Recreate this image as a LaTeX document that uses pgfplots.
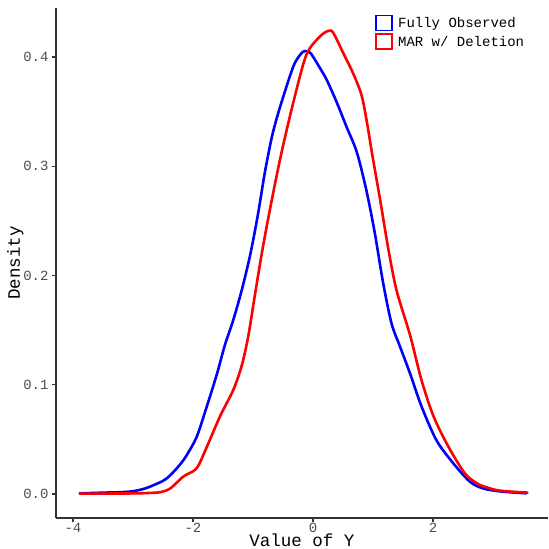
\documentclass[border=0pt]{standalone}
\usepackage{pgfplots}
\pgfplotsset{compat=1.18}
\usepackage{fontspec}
\setmainfont{Liberation Mono}
\definecolor{tickgray}{HTML}{4D4D4D}
\definecolor{axgray}{HTML}{333333}
\begin{document}
\begin{tikzpicture}
\useasboundingbox (0,0) rectangle (549pt,549pt);
\begin{axis}[
  at={(56pt,31pt)}, anchor=south west,
  scale only axis, width=492pt, height=510pt,
  xmin=-4.283, xmax=3.917, ymin=-0.022, ymax=0.4449,
  axis lines=left, axis line style={axgray, line width=1.1pt, -},
  xtick={-4,-2,0,2}, ytick={0,0.1,0.2,0.3,0.4},
  yticklabel style={/pgf/number format/fixed, /pgf/number format/fixed zerofill, /pgf/number format/precision=1},
  /pgf/number format/assume math mode=true,
  tick align=outside, major tick length=4pt,
  tick style={axgray, line width=1.1pt},
  ticklabel style={font=\fontsize{14}{16}\selectfont, text=tickgray},
  xticklabel style={yshift=-1pt, inner ysep=0pt},
  yticklabel style={xshift=0pt},
  xlabel={Value of Y}, ylabel={Density},
  label style={font=\fontsize{17.5}{20}\selectfont},
  xlabel style={inner sep=0pt, yshift=-0.5pt},
  ylabel style={yshift=-7pt},
  legend cell align=left,
  legend style={draw=none, fill=none, at={(0.648,0.987)}, anchor=north west,
    font=\fontsize{14}{16}\selectfont, inner sep=0pt, row sep=2pt,
    /tikz/every even column/.append style={column sep=0pt}},
  legend image code/.code={\draw[line width=1.6pt, #1, sharp plot] (0pt,-7.5pt) rectangle (16pt,7.5pt);},
  legend style={nodes={inner xsep=5.5pt}},
]
\addplot[blue, line width=2.6pt, smooth, tension=0.5] coordinates {
(-3.9,0.0005) (-3.5,0.0012) (-3.22,0.0016) (-3.0,0.0025) (-2.8,0.005)
(-2.66,0.008) (-2.5,0.012) (-2.38,0.017) (-2.2,0.028) (-2.1,0.036)
(-1.94,0.052) (-1.77,0.080) (-1.6,0.110) (-1.47,0.136) (-1.33,0.159)
(-1.19,0.186) (-1.05,0.218) (-0.92,0.255) (-0.8,0.295) (-0.68,0.328) (-0.55,0.354)
(-0.33,0.391) (-0.2,0.403) (-0.13,0.4055) (-0.05,0.404) (0.005,0.400)
(0.12,0.3896) (0.23,0.379) (0.4,0.358) (0.56,0.336) (0.73,0.313)
(0.89,0.278) (1.03,0.239) (1.17,0.193) (1.31,0.156) (1.45,0.135)
(1.62,0.110) (1.81,0.080) (2.06,0.049) (2.34,0.028) (2.62,0.011)
(2.84,0.005) (3.1,0.0025) (3.3,0.0015) (3.56,0.0006)
};
\addlegendentry{Fully Observed}
\addplot[red, line width=2.6pt, smooth, tension=0.5] coordinates {
(-3.9,0.0003) (-3.0,0.0005) (-2.7,0.001) (-2.55,0.0016) (-2.38,0.005)
(-2.16,0.016) (-1.94,0.0235) (-1.77,0.043) (-1.55,0.071) (-1.33,0.095)
(-1.19,0.117) (-1.08,0.144) (-0.98,0.178) (-0.86,0.218) (-0.74,0.254)
(-0.55,0.306) (-0.33,0.358) (-0.11,0.402) (0.12,0.419) (0.26,0.424)
(0.34,0.422) (0.51,0.403) (0.67,0.385) (0.81,0.365) (0.9,0.34) (0.99,0.31)
(1.12,0.269) (1.26,0.223) (1.39,0.187) (1.56,0.156) (1.64,0.141)
(1.81,0.104) (2.01,0.071) (2.26,0.043) (2.53,0.019) (2.73,0.0098)
(2.9,0.006) (3.12,0.003) (3.59,0.0012)
};
\addlegendentry{MAR w/ Deletion}
\end{axis}
\end{tikzpicture}
\end{document}
